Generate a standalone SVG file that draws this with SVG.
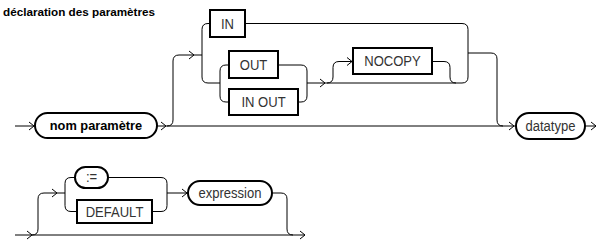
<svg xmlns="http://www.w3.org/2000/svg" width="605" height="248" viewBox="0 0 605 248">
  <style>
    .bg { fill: #ffffff; }
    .title { font-family: "Liberation Sans", Arial, sans-serif; font-weight: bold; font-size: 11.7px; fill: #000; }
    .lbl { font-family: "Liberation Sans", Arial, sans-serif; font-size: 14.5px; fill: #333; text-anchor: middle; }
    .lblb { font-family: "Liberation Sans", Arial, sans-serif; font-weight: bold; font-size: 12.8px; fill: #000; text-anchor: middle; }
    .box { fill: #fff; stroke: #000; stroke-width: 2; }
    .wire { fill: none; stroke: #000; stroke-width: 1; }
    .chev { fill: none; stroke: #000; stroke-width: 1; }
  </style>
  <defs>
    <path id="arrow" class="chev" d="M-5,-4 L0,0 L-5,4"/>
  </defs>
  <rect class="bg" x="0" y="0" width="605" height="248"/>

  <text class="title" x="3" y="16">déclaration des paramètres</text>

  <g id="connectors">
    <!-- row 1: main track -->
    <path class="wire" d="M15,126 H35"/>
    <path class="wire" d="M157,126 H516"/>
    <path class="wire" d="M585,126 H596"/>
    <!-- branch into the mode choice -->
    <path class="wire" d="M167,126 Q173,126 173,120 V61 Q173,55 179,55 H202"/>
    <path class="wire" d="M210,23.5 H208 Q202,23.5 202,29.5 V77 Q202,83 208,83 H220"/>
    <path class="wire" d="M229,65 H226 Q220,65 220,71 V96 Q220,102 226,102 H229"/>
    <path class="wire" d="M278,65 H301 Q307,65 307,71 V96 Q307,102 301,102 H298"/>
    <path class="wire" d="M307,83 H462 Q468,83 468,77 V29.5 Q468,23.5 462,23.5 H245"/>
    <!-- optional NOCOPY -->
    <path class="wire" d="M327,83 Q333,83 333,77 V67.5 Q333,61.5 339,61.5 H353"/>
    <path class="wire" d="M432,61.5 H444 Q450,61.5 450,67.5 V77 Q450,83 456,83"/>
    <!-- back to the main track -->
    <path class="wire" d="M468,53 H491 Q497,53 497,59 V120 Q497,126 503,126"/>

    <!-- row 2: main track -->
    <path class="wire" d="M15,235 H305"/>
    <path class="wire" d="M32,235 Q38,235 38,229 V199 Q38,193 44,193 H65"/>
    <path class="wire" d="M75,177.5 H71 Q65,177.5 65,183.5 V205.5 Q65,211.5 71,211.5 H77"/>
    <path class="wire" d="M108,177.5 H161 Q167,177.5 167,183.5 V205.5 Q167,211.5 161,211.5 H152"/>
    <path class="wire" d="M167,193 H188"/>
    <path class="wire" d="M272,193 H281 Q287,193 287,199 V229 Q287,235 293,235"/>

    <!-- arrowheads -->
    <use href="#arrow" x="34" y="126"/>
    <use href="#arrow" x="166" y="126"/>
    <use href="#arrow" x="194" y="55"/>
    <use href="#arrow" x="325" y="83"/>
    <use href="#arrow" x="352" y="61.5"/>
    <use href="#arrow" x="514" y="126"/>
    <use href="#arrow" x="596" y="126"/>
    <use href="#arrow" x="32" y="235"/>
    <use href="#arrow" x="57" y="193"/>
    <use href="#arrow" x="187" y="193"/>
    <use href="#arrow" x="305" y="235"/>
  </g>

  <g id="nom-parametre">
    <rect class="box" x="35" y="113" width="122" height="25" rx="12.5"/>
    <text class="lblb" x="96" y="130">nom paramètre</text>
  </g>
  <g id="kw-in">
    <rect class="box" x="210" y="10" width="35" height="27"/>
    <text class="lbl" transform="translate(227.5,28.5) scale(0.9,1)">IN</text>
  </g>
  <g id="kw-out">
    <rect class="box" x="229" y="51" width="49" height="27"/>
    <text class="lbl" transform="translate(253.5,69.5) scale(0.9,1)">OUT</text>
  </g>
  <g id="kw-in-out">
    <rect class="box" x="229" y="89" width="69" height="26"/>
    <text class="lbl" transform="translate(263.5,107) scale(0.9,1)">IN OUT</text>
  </g>
  <g id="kw-nocopy">
    <rect class="box" x="353" y="48" width="79" height="26"/>
    <text class="lbl" transform="translate(392.5,66) scale(0.9,1)">NOCOPY</text>
  </g>
  <g id="datatype">
    <rect class="box" x="516" y="113" width="69" height="26" rx="13"/>
    <text class="lbl" transform="translate(550.5,131) scale(0.9,1)">datatype</text>
  </g>
  <g id="assign">
    <rect class="box" x="75" y="167" width="33" height="21" rx="10.5"/>
    <text class="lbl" transform="translate(91.5,182) scale(0.9,1)">:=</text>
  </g>
  <g id="kw-default">
    <rect class="box" x="77" y="200" width="75" height="23"/>
    <text class="lbl" transform="translate(114.5,216.5) scale(0.9,1)">DEFAULT</text>
  </g>
  <g id="expression">
    <rect class="box" x="188" y="181" width="84" height="24" rx="12"/>
    <text class="lbl" transform="translate(230,198) scale(0.9,1)">expression</text>
  </g>
</svg>
